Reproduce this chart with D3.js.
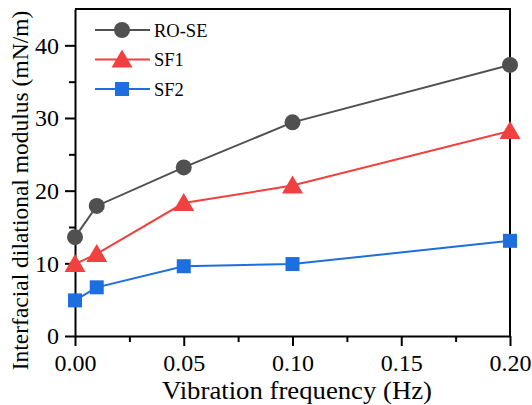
<!DOCTYPE html>
<html>
<head>
<meta charset="utf-8">
<script src="https://cdn.jsdelivr.net/npm/d3@7"></script>
<style>
  html, body { margin: 0; padding: 0; background: #fff; }
  svg text { font-family: "Liberation Serif", "Times New Roman", Times, serif; }
</style>
</head>
<body>
<svg id="chart" width="532" height="405"></svg>
<script>
// Vibration frequencies (Hz)
const frequencies = [0, 0.01, 0.05, 0.10, 0.20];

// Interfacial dilational modulus (mN/m) for each sample
const roSe = [13.6, 17.9, 23.2, 29.4, 37.3];
const sf1  = [9.9, 11.3, 18.3, 20.7, 28.2];
const sf2  = [4.9, 6.7, 9.6, 9.9, 13.1];

const seriesNames = ["RO-SE", "SF1", "SF2"];
const seriesColors = ["#505050", "#f04040", "#1d6fe0"];
const seriesShapes = ["circle", "triangle", "square"];

const xTicks = [0, 0.05, 0.10, 0.15, 0.20];
const yTicks = [0, 10, 20, 30, 40];

const series = [roSe, sf1, sf2].map((vals, i) => ({
  name: seriesNames[i],
  color: seriesColors[i],
  shape: seriesShapes[i],
  points: vals.map((v, j) => ({ x: frequencies[j], y: v }))
}));

const W = 532, H = 405;
const margin = { left: 75, right: 22, top: 9, bottom: 69 };
const svg = d3.select("#chart");
const serif = "Liberation Serif, Times New Roman, Times, serif";

const x = d3.scaleLinear().domain([0, 0.20]).range([margin.left, W - margin.right]);
const y = d3.scaleLinear().domain([0, 45]).range([H - margin.bottom, margin.top]);

// Minor ticks
const xMinor = d3.range(0.025, 0.2, 0.05);
const yMinor = d3.range(5, 45, 10);

svg.append("g")
  .attr("transform", `translate(0,${H - margin.bottom})`)
  .call(d3.axisBottom(x).tickValues(xMinor).tickSize(6).tickFormat(""))
  .call(g => g.select(".domain").remove())
  .call(g => g.selectAll("line").attr("stroke", "#000").attr("stroke-width", 2));

svg.append("g")
  .attr("transform", `translate(${margin.left},0)`)
  .call(d3.axisLeft(y).tickValues(yMinor).tickSize(6).tickFormat(""))
  .call(g => g.select(".domain").remove())
  .call(g => g.selectAll("line").attr("stroke", "#000").attr("stroke-width", 2));

// Major axes
const xAxis = svg.append("g")
  .attr("transform", `translate(0,${H - margin.bottom})`)
  .call(d3.axisBottom(x).tickValues(xTicks).tickSize(10).tickPadding(8).tickFormat(d3.format(".2f")).tickSizeOuter(0));
xAxis.attr("font-size", 24).attr("font-family", serif).selectAll("text").attr("fill", "#000");

const yAxis = svg.append("g")
  .attr("transform", `translate(${margin.left},0)`)
  .call(d3.axisLeft(y).tickValues(yTicks).tickSize(10).tickPadding(6).tickSizeOuter(0));
yAxis.attr("font-size", 24).attr("font-family", serif).selectAll("text").attr("fill", "#000");

[xAxis, yAxis].forEach(g => {
  g.select(".domain").attr("stroke", "#000").attr("stroke-width", 2);
  g.selectAll(".tick line").attr("stroke", "#000").attr("stroke-width", 2);
});

// Top and right frame
svg.append("path")
  .attr("d", `M${x(0)},${y(45)}H${x(0.2)}V${y(0)}`)
  .attr("fill", "none").attr("stroke", "#000").attr("stroke-width", 2);

// Axis titles
svg.append("text")
  .attr("x", 297)
  .attr("y", 399)
  .attr("text-anchor", "middle")
  .attr("font-size", 25)
  .attr("textLength", 270)
  .attr("lengthAdjust", "spacingAndGlyphs")
  .text("Vibration frequency (Hz)");

svg.append("text")
  .attr("transform", `translate(28,190.5) rotate(-90)`)
  .attr("text-anchor", "middle")
  .attr("font-size", 23.5)
  .text("Interfacial dilational modulus (mN/m)");

// Marker drawing
function drawMarker(sel, shape, color) {
  if (shape === "circle") {
    sel.append("circle").attr("r", 8).attr("fill", color);
  } else if (shape === "triangle") {
    sel.append("path").attr("d", "M0,-10L10.5,8L-10.5,8Z").attr("fill", color);
  } else {
    sel.append("rect").attr("x", -7).attr("y", -7).attr("width", 14).attr("height", 14).attr("fill", color);
  }
}

const line = d3.line().x(d => x(d.x)).y(d => y(d.y));

series.forEach(s => {
  svg.append("path")
    .datum(s.points)
    .attr("d", line)
    .attr("fill", "none")
    .attr("stroke", s.color)
    .attr("stroke-width", 2);
});
series.forEach(s => {
  svg.append("g").selectAll("g")
    .data(s.points)
    .join("g")
    .attr("transform", d => `translate(${x(d.x)},${y(d.y)})`)
    .each(function () { drawMarker(d3.select(this), s.shape, s.color); });
});

// Legend
const legend = svg.append("g");
series.forEach((s, i) => {
  const gy = 30 + i * 29.5;
  const g = legend.append("g").attr("transform", `translate(0,${gy})`);
  g.append("line").attr("x1", 95).attr("x2", 150).attr("y1", 0).attr("y2", 0)
    .attr("stroke", s.color).attr("stroke-width", 2);
  drawMarker(g.append("g").attr("transform", "translate(122,0)"), s.shape, s.color);
  g.append("text").attr("x", 154).attr("y", 6.5).attr("font-size", 18.5).text(s.name);
});
</script>
</body>
</html>
